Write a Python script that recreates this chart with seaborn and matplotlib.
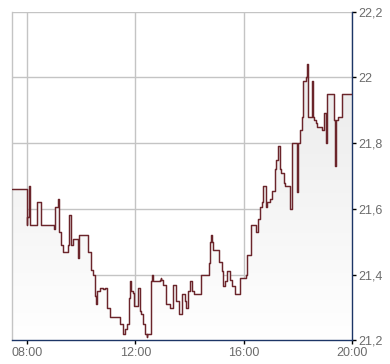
import numpy as np
import pandas as pd
import matplotlib
matplotlib.use("Agg")
import matplotlib.pyplot as plt
import seaborn as sns
from matplotlib.colors import LinearSegmentedColormap

times = ["07:28","08:00","08:01","08:04","08:07","08:22","08:32","09:01","09:03","09:10",
         "09:12","09:16","09:21","09:31","09:33","09:38","09:43","09:54","09:56","10:16",
         "10:22","10:26","10:30","10:33","10:35","10:42","10:49","10:54","10:57","11:04",
         "11:26","11:32","11:37","11:41","11:46","11:48","11:51","11:54","11:57","12:07",
         "12:11","12:13","12:18","12:22","12:25","12:26","12:34","12:36","12:39","12:55",
         "12:56","12:57","13:01","13:08","13:17","13:24","13:29","13:37","13:43","13:49",
         "13:52","13:57","14:01","14:05","14:11","14:25","14:42","14:45","14:48","14:50",
         "14:53","15:06","15:11","15:15","15:18","15:22","15:30","15:34","15:41","15:52",
         "16:05","16:07","16:16","16:27","16:31","16:36","16:40","16:43","16:49","16:51",
         "16:57","17:02","17:08","17:12","17:15","17:20","17:22","17:28","17:31","17:42",
         "17:47","17:58","18:01","18:04","18:08","18:12","18:17","18:20","18:21","18:23",
         "18:32","18:33","18:36","18:39","18:42","18:54","18:57","19:01","19:04","19:20",
         "19:22","19:23","19:29","19:38","20:00"]
prices = [21.66,21.55,21.575,21.67,21.55,21.62,21.55,21.54,21.605,21.63,
          21.53,21.49,21.47,21.49,21.58,21.49,21.51,21.45,21.52,21.47,
          21.415,21.40,21.335,21.31,21.35,21.36,21.355,21.36,21.30,21.27,
          21.25,21.22,21.235,21.25,21.33,21.38,21.35,21.345,21.305,21.36,
          21.29,21.28,21.25,21.22,21.21,21.22,21.38,21.40,21.38,21.385,
          21.39,21.385,21.37,21.31,21.30,21.37,21.32,21.28,21.34,21.32,
          21.30,21.35,21.38,21.35,21.34,21.40,21.435,21.50,21.52,21.50,
          21.475,21.44,21.41,21.365,21.38,21.41,21.385,21.365,21.34,21.39,
          21.40,21.46,21.55,21.53,21.57,21.605,21.62,21.67,21.605,21.62,
          21.63,21.655,21.72,21.75,21.79,21.72,21.71,21.68,21.67,21.60,
          21.80,21.65,21.80,21.84,21.88,21.99,22.00,22.04,21.95,21.88,
          21.99,21.88,21.87,21.86,21.85,21.84,21.89,21.80,21.95,21.87,
          21.73,21.87,21.88,21.95,21.95]

x_ticks = [8, 12, 16, 20]
x_tick_labels = ["08:00", "12:00", "16:00", "20:00"]
y_ticks = [21.2, 21.4, 21.6, 21.8, 22.0, 22.2]
y_tick_labels = ["21,2", "21,4", "21,6", "21,8", "22", "22,2"]

def to_hours(s):
    h, m = s.split(":")
    return int(h) + int(m) / 60.0

df = pd.DataFrame({"t": [to_hours(s) for s in times], "price": prices})

sns.set_style("white")
plt.rcParams["font.family"] = ["Liberation Sans", "DejaVu Sans"]

fig = plt.figure(figsize=(3.9, 3.64), dpi=100)
ax = fig.add_axes([0.0315, 0.0646, 0.9033 - 0.0315, 0.9684 - 0.0646])

x_min, x_max = df["t"].iloc[0], 20.0
y_min, y_max = 21.2, 22.2

# gradient fill under the step line
poly = ax.fill_between(df["t"], df["price"], y_min, step="post", color="none", lw=0, zorder=1)
grad = np.linspace(0, 1, 256).reshape(-1, 1)
cmap = LinearSegmentedColormap.from_list("g", ["#ffffff", "#eaeaea"])
im = ax.imshow(grad, extent=[x_min, x_max, y_min, 22.05], origin="lower", cmap=cmap,
               aspect="auto", zorder=1)
im.set_clip_path(poly.get_paths()[0], transform=ax.transData)

sns.lineplot(data=df, x="t", y="price", drawstyle="steps-post", color="#6b252b",
             lw=1.05, ax=ax, zorder=3, estimator=None, sort=False)

ax.set_xlim(x_min, x_max)
ax.set_ylim(y_min, y_max)
ax.set_xticks(x_ticks)
ax.set_xticklabels(x_tick_labels)
ax.set_yticks(y_ticks)
ax.set_yticklabels(y_tick_labels)
ax.yaxis.tick_right()
ax.set_xlabel("")
ax.set_ylabel("")

ax.grid(True, color="#c4c4c4", lw=1.0, zorder=0)
ax.set_axisbelow(True)

ax.spines["top"].set_visible(False)
ax.spines["left"].set_color("#c4c4c4")
ax.spines["left"].set_linewidth(1.0)
ax.spines["bottom"].set_color("#1c3566")
ax.spines["right"].set_color("#1c3566")
ax.spines["bottom"].set_linewidth(1.0)
ax.spines["right"].set_linewidth(1.0)

ax.tick_params(axis="both", which="both", direction="out", length=3, width=1,
               color="black", labelcolor="#6b6b6b", labelsize=9, pad=1.5)
ax.tick_params(axis="y", left=False, right=True)
ax.tick_params(axis="x", bottom=True)

fig.savefig("out.png", dpi=100, facecolor="white")
